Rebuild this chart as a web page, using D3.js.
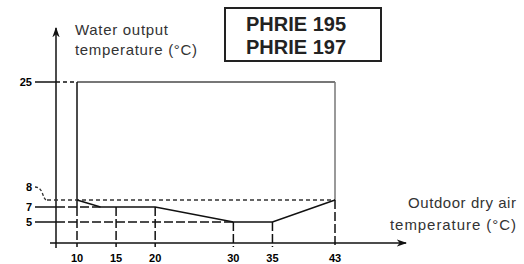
<!DOCTYPE html>
<html>
<head>
<meta charset="utf-8">
<script src="https://cdn.jsdelivr.net/npm/d3@7"></script>
<style>
  body { margin: 0; background: #fff; }
  text { font-family: Arial, "Liberation Sans", sans-serif; }
</style>
</head>
<body>
<div id="chart"></div>
<script>
// data
const xTicks = [10, 15, 20, 30, 35, 43];
const dropFrom = [7, 7, 7, 5, 5, 8];          // where each x tick's dashed drop line starts
const yTicks = [5, 7, 8, 25];
const airTemp = [10, 13, 20, 30, 35, 43];     // outdoor dry air temperature (°C)
const waterMin = [8, 7, 7, 5, 5, 8];          // lower limit of water output (°C)
const waterMax = 25;                          // upper limit
const models = ["PHRIE 195", "PHRIE 197"];

const width = 524, height = 264;

const svg = d3.select("#chart")
  .append("svg")
    .attr("width", width)
    .attr("height", height);

// the original is a schematic, so the y scale is piecewise
let x = d3.scaleLinear()
    .domain([7.3, 10, 43])
    .range([56, 77, 335]);
let y = d3.scaleLinear()
    .domain([0, 5, 7, 8, 25])
    .range([243, 222, 207, 200, 82]);

const x0 = x(7.3), y0 = y(0);
const longDash = "9,3", shortDash = "4,3";

function line(x1, y1, x2, y2, dash, color, w) {
  svg.append("line")
    .attr("x1", x1).attr("y1", y1).attr("x2", x2).attr("y2", y2)
    .attr("stroke", color || "#111")
    .attr("stroke-width", w || 1.5)
    .attr("stroke-dasharray", dash || null);
}

// arrow heads
svg.append("defs").append("marker")
    .attr("id", "arrow")
    .attr("viewBox", "0 0 10 10")
    .attr("refX", 9).attr("refY", 5)
    .attr("markerWidth", 7).attr("markerHeight", 7)
    .attr("orient", "auto")
  .append("path")
    .attr("d", "M0,1.5 L10,5 L0,8.5 L3,5 Z")
    .attr("fill", "#111");

// axes
svg.append("line")
  .attr("x1", x0).attr("y1", y0 + 5).attr("x2", x0).attr("y2", 28)
  .attr("stroke", "#111").attr("stroke-width", 1.5)
  .attr("marker-end", "url(#arrow)");
svg.append("line")
  .attr("x1", x0 - 6).attr("y1", y0).attr("x2", 406).attr("y2", y0)
  .attr("stroke", "#111").attr("stroke-width", 1.5)
  .attr("marker-end", "url(#arrow)");

// envelope: top at 25, left at 10, right at 43
line(x(10), y(waterMax), x(43), y(waterMax), null, "#777", 2);
line(x(10), y(waterMax), x(10), y(7));
line(x(43), y(waterMax), x(43), y(waterMin[5]), null, "#777", 1.5);

// dashed reference lines to the y axis
line(x0, y(waterMax), x(10) - 2, y(waterMax), shortDash);
line(x0, y(7), x(13), y(7), longDash);
line(x0, y(5), x(30), y(5), longDash);
line(x0 - 9, y(8), x(43), y(8), shortDash, "#333", 1.3);

// drop lines to the x axis
xTicks.forEach(function(t, i) {
  line(x(t), y(dropFrom[i]), x(t), y0 + 4, longDash);
});

// lower limit curve
svg.append("path")
  .datum(airTemp.map(function(d, i) { return [d, waterMin[i]]; }))
  .attr("d", d3.line().x(d => x(d[0])).y(d => y(d[1])))
  .attr("fill", "none")
  .attr("stroke", "#111")
  .attr("stroke-width", 1.5);

// y ticks
yTicks.forEach(function(t) {
  let ty = y(t);
  if (t === 8) {
    // the 8 label sits above its line, joined by a dashed leader
    ty = y(8) - 13;
    svg.append("path")
      .attr("d", "M" + (x0 - 21) + "," + ty + " C" + (x0 - 12) + "," + ty +
        " " + (x0 - 14) + "," + y(8) + " " + (x0 - 9) + "," + y(8))
      .attr("fill", "none").attr("stroke", "#333").attr("stroke-width", 1.3)
      .attr("stroke-dasharray", "3,2");
  } else {
    line(x0 - 21, ty, x0, ty);
  }
  svg.append("text")
    .attr("x", x0 - 24).attr("y", ty)
    .attr("dy", "0.35em")
    .attr("text-anchor", "end")
    .style("font-size", "11px").style("font-weight", "bold")
    .text(t);
});

// x tick labels
svg.selectAll("text.xlab")
  .data(xTicks)
  .enter()
  .append("text")
    .attr("class", "xlab")
    .attr("x", d => x(d))
    .attr("y", 262)
    .attr("text-anchor", "middle")
    .style("font-size", "11px").style("font-weight", "bold")
    .text(d => d);

// axis titles
const titleColor = "#333";
function title(txt, tx, ty, anchor, len) {
  svg.append("text").attr("x", tx).attr("y", ty)
    .attr("text-anchor", anchor)
    .attr("textLength", len)
    .attr("lengthAdjust", "spacing")
    .style("font-size", "15px").style("fill", titleColor)
    .text(txt);
}
title("Water output", 75, 35, "start", 93);
title("temperature (°C)", 75, 55, "start", 122);
title("Outdoor dry air", 408, 208, "start", 108);
title("temperature (°C)", 390, 230, "start", 126);

// model box
svg.append("rect")
  .attr("x", 225).attr("y", 8)
  .attr("width", 156).attr("height", 53)
  .attr("fill", "none").attr("stroke", "#222").attr("stroke-width", 2);
svg.selectAll("text.model")
  .data(models)
  .enter()
  .append("text")
    .attr("class", "model")
    .attr("x", 246)
    .attr("y", (d, i) => 31 + i * 23)
    .style("font-size", "20px").style("font-weight", "bold")
    .style("fill", "#222")
    .text(d => d);
</script>
</body>
</html>
